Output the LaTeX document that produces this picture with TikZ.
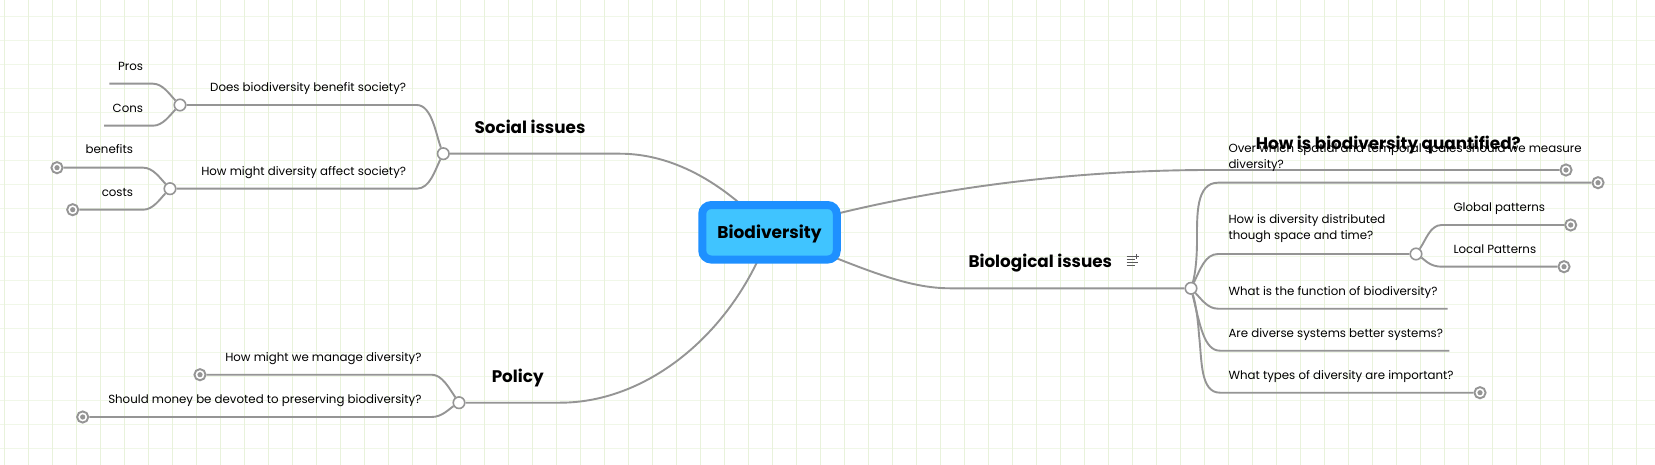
\documentclass[tikz,border=0pt]{standalone}
\usepackage{fontspec}
\setmainfont{Poppins}

\definecolor{gridv}{HTML}{E8F2DB}
\definecolor{gridh}{HTML}{F0F7E8}
\definecolor{linegray}{HTML}{959595}
\definecolor{rootfill}{HTML}{40C4FF}
\definecolor{rootedge}{HTML}{1E90FF}

\pgfdeclarelayer{under}
\pgfsetlayers{under,main}

\tikzset{
    branch/.style={draw=linegray, line width=1.9pt},
    junct/.style={circle, draw=linegray, fill=white, line width=1.6pt, minimum size=11.5pt, inner sep=0pt},
    leaf/.style={circle, draw=linegray, fill=white, line width=1.9pt, minimum size=11.2pt, inner sep=0pt,
        path picture={\fill[linegray] (path picture bounding box.center) circle (2.6pt);}},
    topic/.style={inner sep=0pt, yshift=-1.8pt, font=\fontsize{16.8}{20}\selectfont\bfseries, text height=11pt, text depth=3pt},
    lbl/.style={inner sep=0pt, yshift=-1.8pt, font=\fontsize{11.8}{16}\selectfont, text height=8pt, text depth=2.5pt},
    lbltwo/.style={inner sep=0pt, yshift=-1.3pt, font=\fontsize{11.8}{16}\selectfont, align=left},
}

\begin{document}
\begin{tikzpicture}[x=1pt, y=-1pt]
    \useasboundingbox (0,0) rectangle (1655,465);
    \begin{pgfonlayer}{under}
    \fill[white] (0,0) rectangle (1655,465);
    \foreach \i in {0,...,18}
        \draw[gridh, line width=.9pt] (0,{16.3+24*\i}) -- (1655,{16.3+24*\i});
    \foreach \i in {0,...,68}
        \draw[gridv, line width=1pt] ({4.67+24*\i},0) -- ({4.67+24*\i},465);
    \end{pgfonlayer}

    \node [draw=rootedge, fill=rootfill, line width=8pt, rounded corners=9pt,
        minimum width=134.5pt, minimum height=54.5pt, inner sep=0pt,
        font=\fontsize{17}{20}\selectfont\bfseries, text height=14pt, text depth=2pt] (root) at (769.5,232.3) {Biodiversity};

    \node [junct] (jsoc) at (443.3,153.7) {};
    \node [junct] (jdoes) at (180,105) {};
    \node [junct] (jaff) at (170,188.7) {};
    \node [junct] (jpol) at (459,402.7) {};
    \node [junct] (jbio) at (1191,288.3) {};
    \node [junct] (jdist) at (1416,254) {};

    \node [leaf] (lben) at (57,167.7) {};
    \node [leaf] (lcost) at (72.7,209.7) {};
    \node [leaf] (lman) at (200,374.7) {};
    \node [leaf] (lmon) at (82.7,417) {};
    \node [leaf] (lquant) at (1566,170) {};
    \node [leaf] (lscal) at (1598,182.7) {};
    \node [leaf] (lglob) at (1570.7,225) {};
    \node [leaf] (lloc) at (1564,266.7) {};
    \node [leaf] (ltyp) at (1480,392.7) {};

    \coordinate (epros) at (109.3,83.7);
    \coordinate (econs) at (104,125.7);
    \coordinate (efun) at (1447.7,308.7);
    \coordinate (ebet) at (1449.3,350.7);

    \node [topic, anchor=center] (tsoc) at (530,127.3) {Social issues};
    \node [topic, anchor=center] (tpol) at (517.7,376.7) {Policy};
    \node [topic, anchor=west] (tbio) at (968.3,261.7) {Biological issues};
    \node [lbltwo, anchor=west] (tscal) at (1228.3,156.7) {Over which spatial and temporal scales should we measure\\diversity?};
    \node [topic, anchor=center] (tquant) at (1388.3,143.3) {How is biodiversity quantified?};

    \node [lbl, anchor=east] (tpros) at (143.3,65.7) {Pros};
    \node [lbl, anchor=east] (tcons) at (143.3,107.7) {Cons};
    \node [lbl, anchor=east] (tdoes) at (406.3,86.7) {Does biodiversity benefit society?};
    \node [lbl, anchor=east] (tben) at (133.3,149.3) {benefits};
    \node [lbl, anchor=east] (tcost) at (133.3,191.7) {costs};
    \node [lbl, anchor=east] (taff) at (406.3,170.7) {How might diversity affect society?};
    \node [lbl, anchor=east] (tman) at (421.7,356.7) {How might we manage diversity?};
    \node [lbl, anchor=east] (tmon) at (421.7,398.7) {Should money be devoted to preserving biodiversity?};
    \node [lbltwo, anchor=west] (tdist) at (1228.3,227.5) {How is diversity distributed\\though space and time?};
    \node [lbl, anchor=west] (tglob) at (1453.3,206.7) {Global patterns};
    \node [lbl, anchor=west] (tloc) at (1453.3,248.7) {Local Patterns};
    \node [lbl, anchor=west] (tfun) at (1228.3,290.7) {What is the function of biodiversity?};
    \node [lbl, anchor=west] (tbet) at (1228.3,332.7) {Are diverse systems better systems?};
    \node [lbl, anchor=west] (ttyp) at (1228.3,375) {What types of diversity are important?};

    \begin{pgfonlayer}{under}
    \draw [branch] (jsoc) -- (620,153.7) .. controls (670,153.7) and (722,180) .. (root.center);
    \draw [branch] (jpol) -- (560,402.7) .. controls (650,402.7) and (735,330) .. (root.center);
    \draw [branch] (jbio) -- (950,288.3) .. controls (900,288.3) and (850,262) .. (root.center);
    \draw [branch] (lquant) -- (1210,170) .. controls (1060,170) and (900,192) .. (root.center);

    \draw [branch] (jdoes) -- (416.7,105) .. controls (432,105) and (436,135) .. (jsoc);
    \draw [branch] (jaff) -- (416.7,188.7) .. controls (430,188.7) and (435,170) .. (jsoc);
    \draw [branch] (epros) -- (153,83.7) .. controls (163,83.7) and (170,95) .. (jdoes);
    \draw [branch] (econs) -- (153,125.7) .. controls (163,125.7) and (170,115) .. (jdoes);
    \draw [branch] (lben) -- (143.3,167.7) .. controls (153,167.7) and (160,178) .. (jaff);
    \draw [branch] (lcost) -- (143.3,209.7) .. controls (153,209.7) and (160,199) .. (jaff);
    \draw [branch] (lman) -- (431.7,374.7) .. controls (442,374.7) and (449,388) .. (jpol);
    \draw [branch] (lmon) -- (431.7,417) .. controls (442,417) and (449,409) .. (jpol);

    \draw [branch] (lscal) -- (1218,182.7) .. controls (1196,182.7) and (1197,215) .. (1197,240) .. controls (1197,260) and (1195,275) .. (jbio);
    \draw [branch] (jdist) -- (1218,254) .. controls (1205,254) and (1200,270) .. (jbio);
    \draw [branch] (efun) -- (1218,308.7) .. controls (1208,308.7) and (1202,300) .. (jbio);
    \draw [branch] (ebet) -- (1220,350.7) .. controls (1204,350.7) and (1200,325) .. (jbio);
    \draw [branch] (ltyp) -- (1220,392.7) .. controls (1200,392.7) and (1202,360) .. (1199,335) .. controls (1198,320) and (1196,305) .. (jbio);
    \draw [branch] (lglob) -- (1441.7,225) .. controls (1430,225) and (1426,240) .. (jdist);
    \draw [branch] (lloc) -- (1441.7,266.7) .. controls (1430,266.7) and (1425,260) .. (jdist);
    \end{pgfonlayer}

    \draw [black!65, line width=1pt] (1126.5,256.5) -- ++(8,0) (1126.5,259.5) -- ++(8,0) (1126.5,262.5) -- ++(11,0) (1126.5,265.5) -- ++(8,0);
    \draw [black!65, line width=.8pt] (1136.3,254) -- ++(0,5) (1133.8,256.5) -- ++(5,0);
\end{tikzpicture}
\end{document}
